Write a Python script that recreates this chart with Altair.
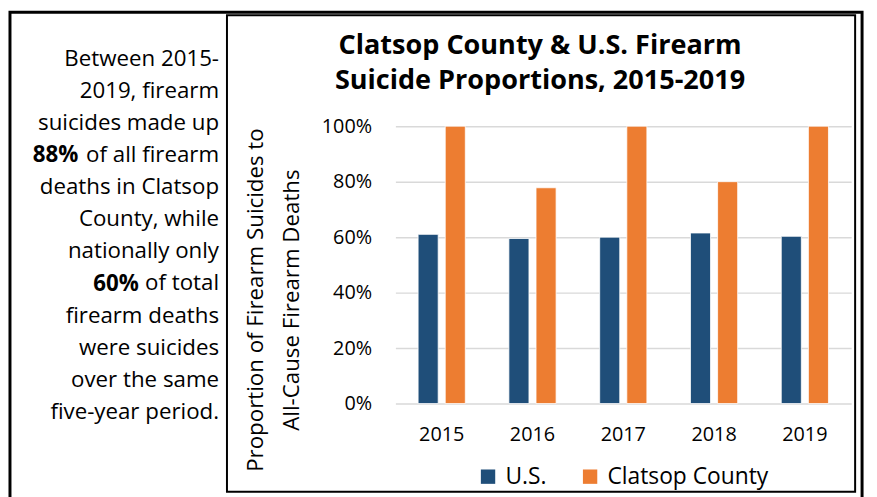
import altair as alt
import pandas as pd

years = ["2015", "2016", "2017", "2018", "2019"]
us_values = [0.61, 0.595, 0.60, 0.615, 0.603]
clatsop_values = [1.0, 0.778, 1.0, 0.80, 1.0]
series = ["U.S.", "Clatsop County"]
colors = ["#1F4E79", "#ED7D31"]
tick_values = [0, 0.2, 0.4, 0.6, 0.8, 1.0]

title_lines = ["Clatsop County & U.S. Firearm", "Suicide Proportions, 2015-2019"]
y_title = ["Proportion of Firearm Suicides to", "All-Cause Firearm Deaths"]
side_lines = ["Between 2015-", "2019, firearm", "suicides made up", "of all firearm",
              "deaths in Clatsop", "County, while", "nationally only", "of total",
              "firearm deaths", "were suicides", "over the same", "five-year period."]
bold_88 = "88%"
bold_60 = "60%"

rows = []
for i, yr in enumerate(years):
    rows.append({"year": yr, "series": series[0], "value": us_values[i]})
    rows.append({"year": yr, "series": series[1], "value": clatsop_values[i]})
df = pd.DataFrame(rows)

FONT = "Open Sans"
SIDE = 22.5
one = alt.Data(values=[{}])

outer = alt.Chart(one).mark_rect(fill="transparent", stroke="black", strokeWidth=3).encode(
    x=alt.value(-389), x2=alt.value(471), y=alt.value(-115), y2=alt.value(400))
box = alt.Chart(one).mark_rect(fill="transparent", stroke="black", strokeWidth=2).encode(
    x=alt.value(-170), x2=alt.value(464), y=alt.value(-112), y2=alt.value(369))

bars = alt.Chart(df).mark_bar(stroke="white", strokeWidth=0.8).encode(
    x=alt.X("year:N", title=None,
            scale=alt.Scale(paddingInner=0.48, paddingOuter=0.25),
            axis=alt.Axis(labelAngle=0, domain=False, ticks=False, labelPadding=21,
                          labelFontSize=20, labelFont=FONT, labelColor="black")),
    xOffset=alt.XOffset("series:N", scale=alt.Scale(domain=series, paddingInner=0.26, paddingOuter=0)),
    y=alt.Y("value:Q", title=y_title,
            scale=alt.Scale(domain=[0, 1], nice=False),
            axis=alt.Axis(values=tick_values, format=".0%", domain=False, ticks=False,
                          labelPadding=24, labelFontSize=20, labelFont=FONT, labelColor="black",
                          gridColor="#D9D9D9", gridWidth=1.5,
                          titleFont=FONT, titleFontSize=22.5, titleFontWeight="normal",
                          titleColor="black", titleAngle=-90, titleX=-134, titleY=175,
                          titleAlign="center", titleBaseline="alphabetic", titleLineHeight=36)),
    color=alt.Color("series:N", scale=alt.Scale(domain=series, range=colors),
                    legend=alt.Legend(orient="none", legendX=82, legendY=342, direction="horizontal",
                                      title=None, symbolType="square", symbolSize=210,
                                      symbolStrokeWidth=0, labelFontSize=23, labelFont=FONT,
                                      labelColor="black", labelLimit=0, columnPadding=32,
                                      labelOffset=6)),
)

title1 = alt.Chart(one).mark_text(text=title_lines[0], font=FONT, fontSize=27.3, fontWeight="bold",
                                  align="center", baseline="alphabetic").encode(
    x=alt.value(146), y=alt.value(-73))
title2 = alt.Chart(one).mark_text(text=title_lines[1], font=FONT, fontSize=27.3, fontWeight="bold",
                                  align="center", baseline="alphabetic").encode(
    x=alt.value(146), y=alt.value(-38))

side = alt.Chart(one).mark_text(text=side_lines, font=FONT, fontSize=SIDE, align="right",
                                baseline="alphabetic", lineHeight=32.4).encode(
    x=alt.value(-178), y=alt.value(-61))
b88 = alt.Chart(one).mark_text(text=bold_88, font=FONT, fontSize=SIDE, fontWeight="bold",
                               align="right", baseline="alphabetic").encode(
    x=alt.value(-320), y=alt.value(36))
b60 = alt.Chart(one).mark_text(text=bold_60, font=FONT, fontSize=SIDE, fontWeight="bold",
                               align="right", baseline="alphabetic").encode(
    x=alt.value(-259), y=alt.value(166))

chart = alt.layer(outer, box, bars, title1, title2, side, b88, b60).properties(
    width=460, height=280,
    autosize=alt.AutoSizeParams(type="none"),
    padding={"left": 391, "top": 117, "right": 18, "bottom": 92},
).configure_view(stroke=None)

chart.save("out.html", embed_options={"renderer": "svg", "actions": False})
